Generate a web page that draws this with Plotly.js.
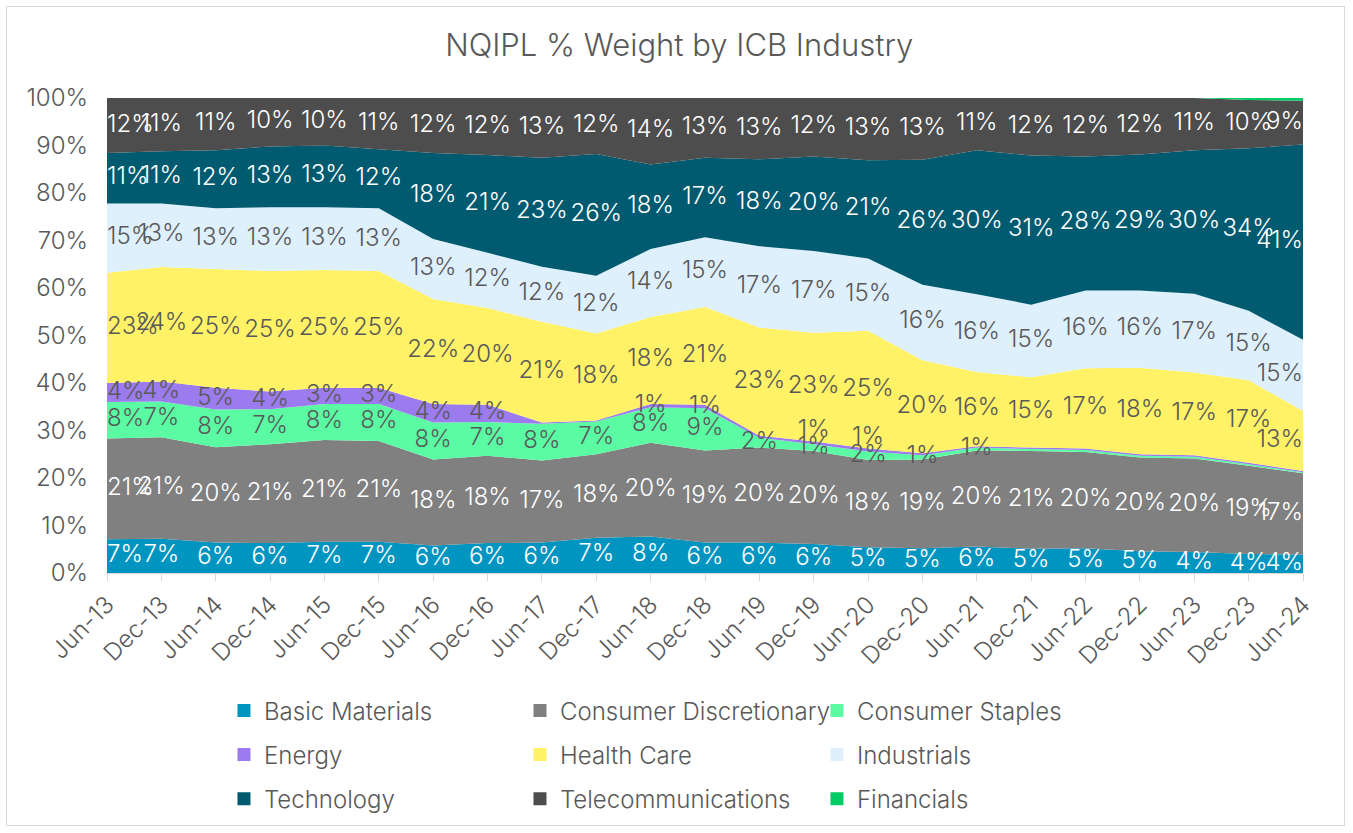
<!DOCTYPE html>
<html><head><meta charset="utf-8">
<script src="https://cdn.plot.ly/plotly-3.0.1.min.js"></script>
<style>
html,body{margin:0;padding:0;background:#fff;}
#chart{width:1353px;height:833px;}
#frame{position:absolute;left:6px;top:6px;width:1339px;height:820px;border:1px solid #d9d9d9;pointer-events:none;box-sizing:border-box;}
</style>
</head><body>
<div id="chart"></div><div id="frame"></div>
<script>
const dates = ['Jun-13','Dec-13','Jun-14','Dec-14','Jun-15','Dec-15','Jun-16','Dec-16','Jun-17','Dec-17','Jun-18','Dec-18','Jun-19','Dec-19','Jun-20','Dec-20','Jun-21','Dec-21','Jun-22','Dec-22','Jun-23','Dec-23','Jun-24'];
const basicMaterials        = [7.1,7.2,6.4,6.3,6.6,6.6,5.8,6.3,6.4,7.4,7.7,6.4,6.4,6.1,5.4,5.2,5.6,5.1,5.2,4.6,4.4,4.0,3.9];
const consumerDiscretionary = [21.2,21.4,20.1,20.8,21.4,21.2,18.1,18.4,17.3,17.6,19.7,19.4,20.0,19.6,18.4,18.7,20.2,20.6,20.3,19.7,19.7,18.6,17.1];
const consumerStaples       = [7.7,7.5,7.9,7.4,7.6,7.8,7.8,7.1,7.7,6.9,7.5,8.9,2.1,1.4,1.8,0.9,0.6,0.4,0.4,0.4,0.4,0.3,0.2];
const energy                = [4.0,4.2,4.6,3.7,3.4,3.4,3.9,3.6,0.3,0.2,0.7,0.7,0.4,0.6,0.6,0.4,0.3,0.3,0.3,0.3,0.3,0.3,0.3];
const healthCare            = [23.2,24.1,25.0,25.4,24.8,24.6,22.1,20.4,21.2,18.3,18.3,20.6,22.8,22.9,24.8,19.6,15.6,14.8,16.9,18.2,17.4,17.4,12.6];
const industrials           = [14.6,13.4,12.8,13.4,13.2,13.2,12.6,11.6,11.6,12.2,14.3,14.7,17.1,17.2,15.2,15.9,16.4,15.3,16.4,16.3,16.6,14.6,15.0];
const technology            = [10.6,11.0,12.2,12.8,13.0,12.4,18.1,20.6,22.9,25.6,17.8,16.7,18.3,19.9,20.7,26.3,30.3,31.4,28.2,28.6,30.2,34.2,41.1];
const telecommunications    = [11.6,11.2,11.0,10.2,10.0,10.8,11.6,12.0,12.6,11.8,14.0,12.6,12.9,12.3,13.1,13.0,11.0,12.1,12.3,11.9,11.0,10.2,9.2];
const financials            = [0,0,0,0,0,0,0,0,0,0,0,0,0,0,0,0,0,0,0,0,0,0.4,0.6];

const series = [
  {name:'Basic Materials', values:basicMaterials, color:'#0094C1', label:'#ffffff', legend:'legend'},
  {name:'Consumer Discretionary', values:consumerDiscretionary, color:'#808080', label:'#ffffff', legend:'legend2'},
  {name:'Consumer Staples', values:consumerStaples, color:'#5BFBA4', label:'#595959', legend:'legend3'},
  {name:'Energy', values:energy, color:'#9C7BEF', label:'#595959', legend:'legend', liftThin:true},
  {name:'Health Care', values:healthCare, color:'#FFF266', label:'#595959', legend:'legend2'},
  {name:'Industrials', values:industrials, color:'#DFF0FD', label:'#595959', legend:'legend3'},
  {name:'Technology', values:technology, color:'#005A70', label:'#ffffff', legend:'legend'},
  {name:'Telecommunications', values:telecommunications, color:'#4D4D4D', label:'#ffffff', legend:'legend2'},
  {name:'Financials', values:financials, color:'#00CC66', label:null, legend:'legend3'}
];

const FONT = 'Inter, "Open Sans", sans-serif';
const GREY = '#595959';
const W = 300;
const totals = dates.map((_, i) => series.reduce((s, sr) => s + sr.values[i], 0));

const traces = [];
series.forEach((s, k) => {
  traces.push({
    type:'scatter', x:dates, y:s.values, stackgroup:'one', groupnorm: k===0 ? 'percent' : undefined,
    mode:'none', fillcolor:s.color, line:{width:0}, showlegend:false, hoverinfo:'skip'
  });
});
const base = dates.map(() => 0);
series.forEach((s) => {
  const pct = s.values.map((v, i) => v / totals[i] * 100);
  const mid = pct.map((p, i) => base[i] + p / 2);
  pct.forEach((p, i) => base[i] += p);
  if (!s.label) return;
  const txt = pct.map(p => Math.round(p) >= 1 ? Math.round(p) + '%' : '');
  const pos = dates.map((_, i) => {
    if (i === 0) return 'middle right';
    if (i === dates.length - 1) return 'middle left';
    if (s.liftThin && i >= 12) return 'top center';
    return 'middle center';
  });
  traces.push({
    type:'scatter', x:dates, y:mid, mode:'text', text:txt, textposition:pos,
    textfont:{family:FONT, size:24, weight:W, color:s.label}, showlegend:false, hoverinfo:'skip', cliponaxis:false
  });
});
series.forEach((s, k) => {
  traces.push({
    type:'scatter', x:[null], y:[null], mode:'markers', name:s.name, legend:s.legend, legendgroup:'g'+k,
    marker:{symbol:'square', size:13, color:s.color}, showlegend:true, hoverinfo:'skip'
  });
});

const legendBase = {orientation:'v', xanchor:'left', yanchor:'top', y:-0.2427, traceorder:'grouped', tracegroupgap:10,
  font:{family:FONT, size:24, weight:W, color:GREY}, bgcolor:'rgba(0,0,0,0)', itemclick:false, itemdoubleclick:false};

const layout = {
  width:1353, height:833,
  margin:{l:107, r:50, t:98, b:257},
  paper_bgcolor:'#ffffff', plot_bgcolor:'#ffffff',
  font:{family:FONT, color:GREY},
  title:{text:'NQIPL % Weight by ICB Industry', font:{family:FONT, size:31, weight:W, color:GREY}, xref:'container', x:0.502, yref:'container', y:1-45/833, yanchor:'middle'},
  showlegend:true,
  xaxis:{type:'category', range:[0, dates.length-1], tickangle:-45, tickfont:{family:FONT, size:24, weight:W, color:GREY},
    ticks:'outside', ticklen:7, tickcolor:'#d9d9d9', showline:true, linecolor:'#d9d9d9', showgrid:false, zeroline:false, fixedrange:true},
  yaxis:{range:[0,100], dtick:10, ticksuffix:'%', tickfont:{family:FONT, size:24, weight:W, color:GREY}, showgrid:true, gridcolor:'#d9d9d9',
    zeroline:false, showline:false, ticks:'', ticklabelstandoff:18, fixedrange:true},
  legend: Object.assign({}, legendBase, {x:0.0978}),
  legend2: Object.assign({}, legendBase, {x:0.3453}),
  legend3: Object.assign({}, legendBase, {x:0.5936})
};

Plotly.newPlot('chart', traces, layout, {displayModeBar:false, staticPlot:true});
</script>
</body></html>
